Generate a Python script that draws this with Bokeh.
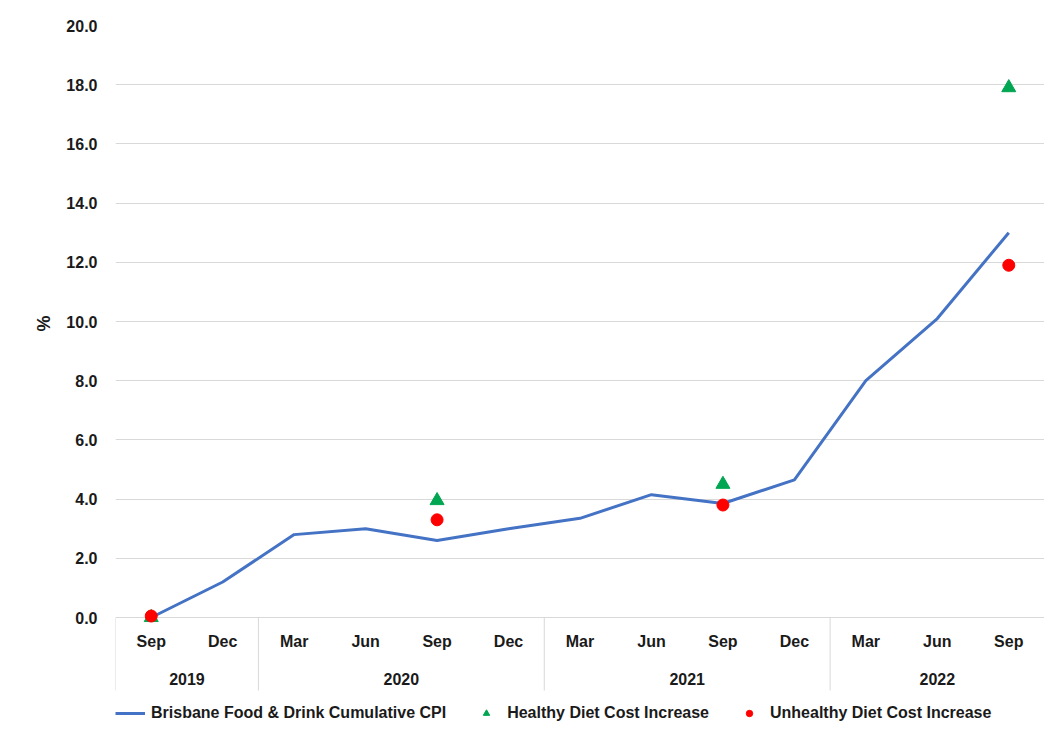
from bokeh.plotting import figure
from bokeh.models import (FactorRange, Range1d, Legend, LegendItem, FixedTicker,
                          NumeralTickFormatter, ColumnDataSource, Title)
from bokeh.core.properties import value
from bokeh.embed import file_html
from bokeh.resources import INLINE

# ---- data ----
years = ["2019", "2019", "2020", "2020", "2020", "2020", "2021", "2021", "2021", "2021", "2022", "2022", "2022"]
quarters = ["Sep", "Dec", "Mar", "Jun", "Sep", "Dec", "Mar", "Jun", "Sep", "Dec", "Mar", "Jun", "Sep"]
cpi = [0.0, 1.2, 2.8, 3.0, 2.6, 3.0, 3.35, 4.15, 3.85, 4.65, 8.0, 10.1, 13.0]

diet_years = ["2019", "2020", "2021", "2022"]
diet_quarters = ["Sep", "Sep", "Sep", "Sep"]
healthy = [0.0, 3.95, 4.5, 17.9]
unhealthy = [0.05, 3.3, 3.8, 11.9]

y_ticks = [0, 2, 4, 6, 8, 10, 12, 14, 16, 18, 20]
y_label = "%"
series_names = ["Brisbane Food & Drink Cumulative CPI", "Healthy Diet Cost Increase",
                "Unhealthy Diet Cost Increase"]

FONT = "Liberation Sans"
TXT = "#1a1a1a"
GRID = "#d9d9d9"

# layout constants (pixels)
FRAME_W, FRAME_H = 929, 703
Y_MIN, Y_MAX = -3.75, 20
PX_PER_UNIT = FRAME_H / (Y_MAX - Y_MIN)

factors = list(zip(years, quarters))
diet_x = list(zip(diet_years, diet_quarters))
group_names = list(dict.fromkeys(years))
sep_x = [(years[0], quarters[0], -0.5)] + [
    (years[i], quarters[i], -0.5) for i in range(1, len(years)) if years[i] != years[i - 1]
]

p = figure(
    x_range=FactorRange(*factors, group_padding=0, range_padding=0),
    y_range=Range1d(Y_MIN, Y_MAX),
    frame_width=FRAME_W, frame_height=FRAME_H,
    output_backend="svg", toolbar_location=None,
    min_border_left=115, min_border_top=25, min_border_right=0, min_border_bottom=0,
)
p.outline_line_color = None
p.background_fill_color = "white"

# category "axis" drawn under the zero line
p.segment(x0=sep_x, y0=0, x1=sep_x, y1=-73 / PX_PER_UNIT, line_color=GRID, line_width=1)
tick_src = ColumnDataSource(dict(x=factors, q=quarters))
p.text(x="x", y=0, text="q", source=tick_src, y_offset=24,
       text_font=value(FONT), text_font_style="bold", text_font_size="16px",
       text_color=TXT, text_align="center", text_baseline="middle")
grp_src = ColumnDataSource(dict(x=group_names, g=group_names))
p.text(x="x", y=0, text="g", source=grp_src, y_offset=61,
       text_font=value(FONT), text_font_style="bold", text_font_size="16px",
       text_color=TXT, text_align="center", text_baseline="middle")

cpi_r = p.line(x=factors, y=cpi, line_color="#4472c4", line_width=3)
h_r = p.scatter(x=diet_x, y=healthy, marker="triangle", size=14,
                fill_color="#00a651", line_color="#00a651")
u_r = p.scatter(x=diet_x, y=unhealthy, marker="circle", size=12,
                fill_color="#ff0000", line_color="#ff0000")

p.xaxis.visible = False

# y axis
p.yaxis.ticker = FixedTicker(ticks=y_ticks)
p.yaxis.formatter = NumeralTickFormatter(format="0.0")
p.yaxis.axis_line_color = None
p.yaxis.major_tick_line_color = None
p.yaxis.minor_tick_line_color = None
p.yaxis.major_tick_out = 0
p.yaxis.major_label_standoff = 18
p.yaxis.major_label_text_font = FONT
p.yaxis.major_label_text_font_style = "bold"
p.yaxis.major_label_text_font_size = "16px"
p.yaxis.major_label_text_color = TXT

p.add_layout(Title(text=y_label, align="right", offset=290, standoff=20,
                   text_font=FONT, text_font_style="bold", text_font_size="18px",
                   text_color=TXT), "left")

p.ygrid.grid_line_color = GRID
p.ygrid.grid_line_width = 1
p.xgrid.grid_line_color = None

legend = Legend(
    items=[
        LegendItem(label=series_names[0], renderers=[cpi_r]),
        LegendItem(label=series_names[1], renderers=[h_r]),
        LegendItem(label=series_names[2], renderers=[u_r]),
    ],
    orientation="horizontal",
    location=(0, 6),
    border_line_color=None,
    background_fill_alpha=0,
    label_text_font=FONT,
    label_text_font_style="bold",
    label_text_font_size="16px",
    label_text_color=TXT,
    glyph_width=30,
    glyph_height=16,
    spacing=25,
    label_standoff=6,
    padding=2,
    margin=0,
)
p.add_layout(legend, "center")

open("out.html", "w").write(file_html(p, INLINE))
